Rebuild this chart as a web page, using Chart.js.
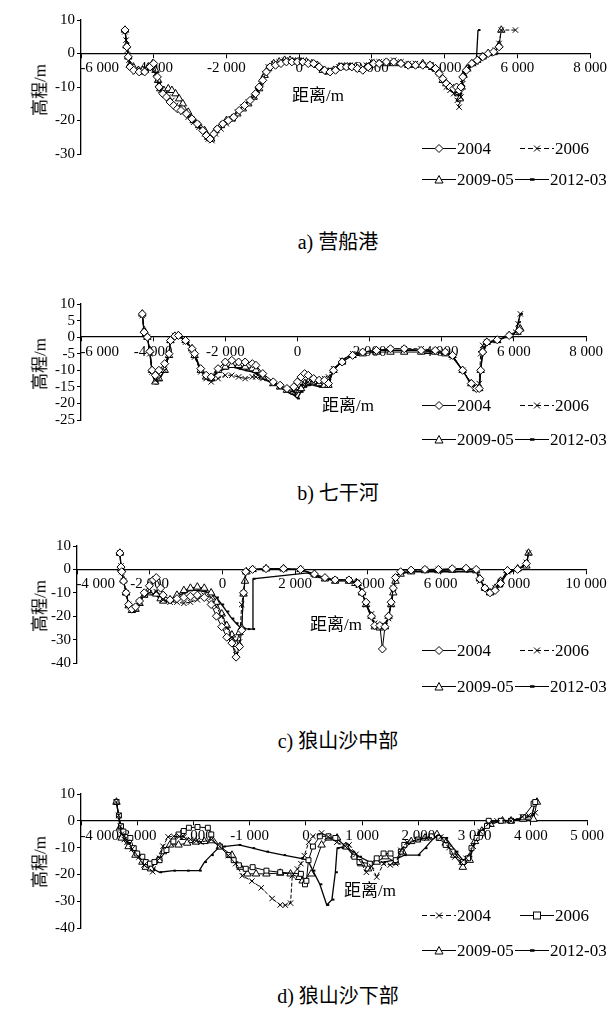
<!DOCTYPE html>
<html><head><meta charset="utf-8">
<script src="https://cdn.jsdelivr.net/npm/chart.js@4/dist/chart.umd.min.js"></script>
<style>
body{margin:0;background:#fff;width:616px;height:1010px;position:relative;overflow:hidden;font-family:'Liberation Serif','Times New Roman','Noto Sans CJK SC',serif;color:#000}
canvas{position:absolute;left:0}
.t{position:absolute;white-space:nowrap;transform:translate(-50%,-50%);font-size:20px;line-height:1}
.yt{position:absolute;white-space:nowrap;transform:translate(-50%,-50%) rotate(-90deg);font-size:17px;line-height:1}
.xt{position:absolute;white-space:nowrap;transform:translate(-50%,-50%);font-size:17px;line-height:1}
.lg{position:absolute;display:flex;align-items:center;font-size:17px;line-height:1;white-space:nowrap;transform:translateY(-50%)}
.lg svg{display:block;margin-right:1px}
</style></head><body>
<script>
// ---------- legend labels ----------
const legendABC = ['2004', '2006', '2009-05', '2012-03'];
const legendD = ['2004', '2006', '2009-05', '2012-03'];
const titles = ['a) 营船港', 'b) 七干河', 'c) 狼山沙中部', 'd) 狼山沙下部'];
const xTitle = '距离/m';
const yTitle = '高程/m';

// ---------- panel a: 营船港 ----------
const a2004 = [[-4790,7],[-4740,2],[-4700,-1],[-4650,-4],[-4550,-5],[-4400,-5.5],[-4250,-5.5],[-4100,-4],[-4000,-3],[-3900,-7],[-3850,-10],[-3750,-12],[-3650,-13],[-3550,-14.5],[-3450,-15.5],[-3350,-16.5],[-3250,-17],[-3100,-18],[-2950,-19.5],[-2800,-21],[-2650,-23],[-2550,-24.5],[-2450,-25.5],[-2350,-24],[-2250,-22.5],[-2100,-21],[-1950,-20],[-1800,-19],[-1650,-17],[-1500,-15.5],[-1350,-14],[-1200,-12],[-1100,-10],[-1000,-8],[-900,-5.5],[-800,-4],[-650,-3.5],[-500,-3],[-350,-2.5],[-200,-2.5],[-50,-2.5],[100,-2.5],[250,-3],[400,-3],[550,-4],[700,-5],[850,-5.5],[1000,-5],[1150,-4],[1300,-4],[1450,-4],[1600,-4.5],[1750,-5],[1900,-4],[2050,-3],[2200,-3],[2400,-2.5],[2600,-2.5],[2800,-3],[3000,-3.5],[3200,-3.5],[3400,-3.5],[3600,-3.5],[3750,-4.5],[3850,-6],[3950,-7.5],[4050,-9],[4150,-10],[4250,-10.5],[4330,-10],[4400,-11],[4450,-10],[4500,-7],[4600,-5],[4750,-3],[4900,-2],[5050,-1],[5200,0],[5350,0.5],[5500,2]];
const a2006 = [[-4790,6.5],[-4760,4],[-4720,1],[-4680,-2],[-4620,-4],[-4500,-5.5],[-4350,-5.5],[-4200,-5],[-4050,-3.5],[-3950,-6],[-3880,-9],[-3800,-11],[-3700,-12],[-3600,-13],[-3500,-14],[-3400,-15.5],[-3300,-16],[-3200,-17.5],[-3050,-19],[-2900,-20.5],[-2750,-22],[-2600,-24],[-2500,-25.5],[-2400,-26],[-2300,-24],[-2150,-22.5],[-2000,-21],[-1850,-19.5],[-1700,-17.5],[-1550,-16],[-1400,-14.5],[-1250,-13],[-1150,-11],[-1050,-9],[-950,-6],[-850,-4],[-700,-3],[-550,-2.5],[-400,-2],[-250,-2],[-100,-2],[50,-2],[200,-2.5],[350,-3],[500,-3.5],[650,-4.5],[800,-5.5],[950,-5],[1100,-4],[1250,-3.5],[1400,-3.5],[1550,-4],[1700,-4.5],[1850,-3.5],[2000,-2.5],[2200,-2.5],[2400,-2.5],[2600,-2],[2800,-2.5],[3000,-3],[3200,-3],[3400,-3.5],[3600,-3.5],[3750,-4.5],[3850,-6],[3950,-8],[4050,-10],[4150,-11],[4250,-12],[4350,-14],[4400,-16],[4450,-13],[4500,-9],[4550,-6],[4650,-4.5],[4800,-3],[4950,-1.5],[5100,-0.5],[5250,0],[5400,1],[5500,3],[5560,7],[5950,7]];
const a2009 = [[-4790,7],[-4750,2.3],[-4700,-1],[-4660,-3.5],[-4560,-4],[-4420,-5],[-4300,-5],[-4150,-4],[-4030,-3],[-3950,-5],[-3880,-8],[-3820,-10.5],[-3720,-11],[-3600,-10.5],[-3500,-11],[-3400,-12],[-3300,-13.5],[-3200,-15],[-3050,-17.5],[-2900,-20],[-2750,-21.5],[-2600,-23],[-2500,-25],[-2420,-25.5],[-2300,-23],[-2150,-21.5],[-2000,-20],[-1850,-19.5],[-1700,-18],[-1550,-16.5],[-1400,-15],[-1250,-13],[-1100,-10.5],[-950,-6.5],[-850,-4.5],[-700,-3],[-550,-2.5],[-400,-2],[-250,-2],[-100,-2.5],[50,-2.5],[200,-2.5],[350,-3],[500,-3.5],[650,-5],[800,-5.5],[950,-5],[1100,-4],[1250,-4],[1400,-4],[1550,-4],[1700,-4.5],[1850,-4],[2000,-3],[2200,-3],[2400,-3],[2600,-3],[2800,-3],[3000,-3.5],[3200,-3.5],[3400,-3],[3600,-3.5],[3750,-4.5],[3850,-5.5],[3950,-8],[4050,-9],[4150,-10],[4250,-10.5],[4350,-11],[4420,-13.5],[4470,-10],[4520,-6.5],[4620,-4.5],[4750,-3],[4900,-2],[5050,-1],[5200,0],[5350,0.3],[5500,2.5],[5560,7]];
const a2012 = [[-4790,7],[-4740,3],[-4690,-1],[-4640,-4],[-4500,-5.5],[-4350,-6],[-4200,-5.5],[-4050,-4],[-3950,-6],[-3870,-9],[-3780,-11],[-3680,-12.5],[-3580,-13.5],[-3480,-15],[-3380,-16],[-3250,-17],[-3100,-18.5],[-2950,-20],[-2800,-21.5],[-2650,-23.5],[-2520,-25],[-2430,-25],[-2330,-23.5],[-2200,-22],[-2050,-21],[-1900,-20],[-1750,-18.5],[-1600,-16.5],[-1450,-15],[-1300,-13.5],[-1150,-11],[-1050,-9],[-950,-6],[-850,-4.5],[-700,-3.5],[-550,-3],[-400,-2.5],[-250,-2],[-100,-2],[50,-2],[200,-2.5],[350,-3],[500,-3.5],[650,-4.5],[800,-5],[950,-5],[1100,-4],[1250,-3.5],[1400,-3.5],[1550,-4],[1700,-4.5],[1850,-3.5],[2000,-3],[2200,-2.5],[2400,-2.5],[2600,-2.5],[2800,-3],[3000,-3],[3200,-3.5],[3400,-3.5],[3600,-4],[3750,-5],[3850,-6.5],[3950,-8],[4050,-9.5],[4150,-10.5],[4250,-11.5],[4350,-12.5],[4420,-12],[4480,-8],[4530,-6],[4650,-5],[4750,-3.5],[4870,-3],[4920,7]];

// ---------- panel b: 七干河 ----------
const b2004 = [[-4300,7],[-4250,1.5],[-4160,0],[-4090,-4.3],[-4030,-10],[-3940,-11.5],[-3840,-10],[-3680,-8],[-3560,-5],[-3520,-1],[-3400,0.3],[-3300,0.5],[-3100,-1],[-2920,-3.5],[-2850,-5],[-2680,-9.5],[-2530,-11.5],[-2390,-12],[-2200,-9.5],[-2000,-7.5],[-1820,-7],[-1630,-7.5],[-1450,-7.5],[-1250,-8],[-1150,-8.5],[-960,-11],[-670,-13.5],[-480,-14.5],[-290,-15.5],[-100,-15],[0,-13.5],[100,-12],[200,-11],[300,-11.5],[450,-12.5],[600,-13],[750,-13],[860,-14],[1000,-10],[1240,-7.5],[1530,-5.5],[1810,-4.5],[2190,-4],[2580,-3.5],[2960,-3.5],[3430,-4],[3820,-4],[4100,-4.5],[4300,-5.5],[4580,-10],[4820,-14],[4960,-15.5],[5040,-15.5],[5080,-10],[5135,-4.5],[5250,-1.5],[5540,-0.8],[5870,0.5],[6150,2]];
const b2006 = [[-4300,6.5],[-4250,1],[-4160,0],[-4090,-5],[-4030,-10.5],[-3940,-13],[-3840,-12.5],[-3680,-10],[-3560,-5.5],[-3520,-1],[-3400,0.5],[-3300,0.3],[-3100,-1.5],[-2920,-4],[-2850,-6],[-2680,-10.5],[-2530,-12.5],[-2390,-13.5],[-2200,-12.5],[-2000,-11.5],[-1820,-11.5],[-1630,-12],[-1450,-12.5],[-1250,-12],[-1150,-12],[-960,-12.5],[-670,-14],[-480,-15],[-290,-16],[-100,-16.5],[0,-16],[100,-14.5],[200,-14],[300,-13.5],[450,-13.5],[600,-13.5],[750,-12.5],[860,-12],[1000,-9.5],[1240,-7],[1530,-5],[1810,-4.5],[2190,-4],[2580,-3.5],[2960,-3.5],[3430,-3.5],[3820,-4],[4100,-4.5],[4300,-6],[4580,-10],[4820,-14],[4960,-15],[5040,-14],[5080,-5],[5135,-2.5],[5250,-1.5],[5540,-1],[5870,0.5],[6050,1.5],[6120,4],[6180,7]];
const b2009 = [[-4300,7],[-4250,2],[-4160,0],[-4090,-4],[-4030,-10],[-3940,-13.5],[-3840,-12.5],[-3680,-10],[-3560,-5.5],[-3520,-1],[-3400,0.3],[-3300,0.5],[-3100,-1],[-2920,-3.5],[-2850,-5.5],[-2680,-10],[-2530,-12],[-2390,-12.5],[-2200,-10],[-2000,-9],[-1820,-8.5],[-1630,-8.5],[-1450,-9],[-1250,-9.5],[-1150,-10],[-960,-12],[-670,-14],[-480,-15],[-290,-16],[-100,-16.5],[0,-16],[100,-15.5],[200,-14],[300,-13.5],[450,-13.5],[600,-14],[750,-14.5],[860,-14.5],[1000,-10],[1240,-7.5],[1530,-5.5],[1810,-5],[2190,-4.5],[2580,-4.5],[2960,-4.5],[3430,-4.5],[3820,-4.5],[4100,-5],[4300,-5.5],[4580,-10],[4820,-14],[4960,-15.5],[5040,-15.5],[5080,-10],[5135,-4],[5250,-1.5],[5540,-1],[5870,0.5],[6100,1.5],[6180,2.5]];
const b2012 = [[-4300,7],[-4250,1.5],[-4160,0],[-4090,-5],[-4030,-10.5],[-3940,-14],[-3840,-13],[-3680,-10],[-3560,-5],[-3520,-1],[-3400,0.5],[-3300,0.3],[-3100,-1],[-2920,-3.5],[-2850,-5.5],[-2680,-10],[-2530,-11.5],[-2390,-12.5],[-2200,-10.5],[-2000,-9.5],[-1820,-9],[-1630,-9.5],[-1450,-10],[-1250,-10.5],[-1150,-11],[-960,-12.5],[-670,-14],[-480,-15],[-290,-16.5],[-100,-17.5],[0,-18.5],[100,-16.5],[200,-15],[300,-14.5],[450,-14.5],[600,-15],[750,-14],[860,-13],[1000,-10],[1240,-7],[1530,-5],[1810,-4.5],[2190,-4],[2580,-4],[2960,-4],[3430,-4],[3820,-4.5],[4100,-5],[4300,-6],[4580,-10],[4820,-14.5],[4960,-16],[5040,-16],[5080,-10],[5135,-5],[5250,-2],[5540,-1],[5870,0.3],[6050,1.5],[6120,4.5],[6180,7]];

// ---------- panel c: 狼山沙中部 ----------
const c2004 = [[-2820,7],[-2790,1],[-2770,-1],[-2720,-5],[-2650,-10],[-2580,-15],[-2490,-17],[-2390,-16],[-2280,-13.5],[-2150,-10],[-2010,-7],[-1900,-4.5],[-1820,-3.5],[-1700,-8],[-1630,-11],[-1440,-13],[-1250,-12.5],[-1060,-12],[-880,-11.5],[-690,-11],[-500,-12],[-310,-15],[-165,-20],[-20,-24.5],[120,-29],[260,-31.5],[375,-37.5],[470,-33],[530,-26],[580,-10],[640,-1],[830,0],[1200,0.3],[1680,0.3],[2150,0],[2530,-2],[2820,-3.5],[3100,-4.5],[3480,-4.5],[3720,-6],[3840,-10],[3950,-14],[4100,-20],[4190,-24],[4330,-24],[4400,-34],[4470,-24.5],[4570,-20],[4640,-14],[4700,-8],[4760,-3.5],[4900,-1],[5190,-0.3],[5570,0],[5940,0],[6320,0.3],[6700,0.5],[6980,0],[7080,-4],[7220,-8],[7360,-10],[7500,-9],[7650,-6],[7840,-0.5],[8120,0],[8360,2.5]];
const c2006 = [[-2820,7],[-2790,1.5],[-2770,-1],[-2720,-5],[-2650,-10],[-2580,-15],[-2490,-17.5],[-2390,-17],[-2280,-14],[-2150,-11],[-2010,-10],[-1820,-9.5],[-1700,-11],[-1630,-13],[-1440,-14],[-1250,-14],[-1060,-14.5],[-880,-14],[-690,-13],[-500,-11],[-310,-12],[-165,-16],[-20,-20],[120,-25],[260,-29],[375,-36.5],[470,-31],[530,-15],[580,-10],[640,-1],[830,0],[1200,0.3],[1680,0.3],[2150,0],[2530,-2.5],[2820,-4],[3100,-4.5],[3480,-4.5],[3720,-5.5],[3840,-9],[3950,-15],[4100,-19],[4190,-23],[4330,-24],[4470,-24],[4570,-21],[4640,-15],[4700,-8],[4760,-3.5],[4900,-1],[5190,-0.5],[5570,0],[5940,0],[6320,0],[6700,0.3],[6980,-0.5],[7080,-5],[7220,-8],[7360,-9.5],[7500,-8],[7650,-6],[7840,-1],[8120,0],[8360,3],[8420,7]];
const c2009 = [[-2820,7],[-2790,0.5],[-2770,0],[-2720,-4.5],[-2650,-10],[-2580,-15.5],[-2490,-17.5],[-2390,-17],[-2280,-14.5],[-2150,-11],[-2010,-10],[-1820,-10.5],[-1700,-12.5],[-1630,-13.5],[-1440,-13],[-1250,-11],[-1060,-9],[-880,-8],[-690,-7.5],[-500,-8],[-310,-10],[-165,-14],[-20,-19],[120,-24],[260,-28],[375,-32],[470,-27],[530,-25],[580,-10.5],[620,-5],[660,-1],[830,0],[1200,0.3],[1680,0.3],[2150,0],[2530,-2],[2820,-4],[3100,-5],[3480,-5],[3720,-6],[3840,-10],[3950,-15],[4100,-20],[4190,-24.5],[4330,-25],[4470,-24.5],[4570,-20],[4640,-15],[4700,-10],[4760,-5],[4900,-2],[5190,-1],[5570,-0.5],[5940,-0.5],[6320,-0.3],[6700,0],[6980,-0.5],[7080,-4],[7220,-8],[7360,-10],[7500,-8],[7650,-5],[7840,-0.5],[8120,0.3],[8360,1.5],[8420,7]];
const c2012 = [[-2820,7],[-2790,1.5],[-2770,-0.5],[-2720,-5],[-2650,-10],[-2580,-15],[-2490,-18],[-2390,-16.5],[-2280,-13],[-2150,-10],[-2010,-10],[-1820,-11],[-1700,-13],[-1630,-14],[-1440,-13],[-1250,-11.5],[-1060,-10],[-880,-9],[-690,-9],[-500,-9.5],[-310,-10],[-165,-12],[-20,-15],[120,-18],[260,-21],[375,-23],[470,-24.5],[560,-25],[700,-25.5],[830,-25.5],[840,-4],[2350,-1.5],[2530,-3],[2820,-4],[3100,-4.5],[3480,-4.5],[3720,-6],[3840,-10],[3950,-15],[4100,-20.5],[4190,-23.5],[4330,-24],[4470,-23],[4570,-21],[4640,-14.5],[4700,-9],[4760,-3.5],[4900,-1.5],[5190,-1],[5570,-1],[5940,-1],[6320,-1],[6700,-1],[6980,-1],[7080,-4.5],[7220,-7.5],[7360,-9],[7500,-8],[7650,-6],[7840,-1.5],[8120,0],[8360,2],[8420,7]];

// ---------- panel d: 狼山沙下部 ----------
const d2004 = [[-3370,7],[-3330,2],[-3300,-2],[-3280,-5],[-3230,-7],[-3180,-8],[-3090,-10.5],[-2970,-13.5],[-2880,-16.5],[-2725,-19],[-2600,-14],[-2541,-9.5],[-2450,-6],[-2350,-5.8],[-2250,-5.8],[-2170,-6],[-2050,-7],[-1950,-7.5],[-1867,-8],[-1683,-7],[-1530,-9.6],[-1380,-13],[-1250,-16],[-1131,-20.5],[-960,-22.5],[-794,-25],[-600,-29],[-457,-31.4],[-365,-31.5],[-273,-30.7],[-242,-20.5],[-150,-18],[-89,-16],[-28,-13],[50,-8],[125,-5.8],[279,-4.5],[400,-6],[550,-8],[700,-9.5],[769,-9],[892,-12.5],[1076,-19.2],[1168,-17],[1260,-21],[1382,-16],[1500,-16.5],[1597,-16],[1689,-11],[1800,-8],[1995,-7],[2150,-6.5],[2302,-6],[2400,-6],[2547,-10],[2650,-13.5],[2762,-15.5],[2850,-14],[2976,-9.5],[3100,-4],[3252,-1],[3400,0],[3650,0],[3850,1.5],[3960,2],[4080,3]];
const d2006 = [[-3369,7],[-3326,2],[-3289,-2],[-3246,-4],[-3123,-6.4],[-3062,-10.2],[-3001,-12.2],[-2909,-13.4],[-2848,-15.4],[-2774,-16],[-2694,-15.4],[-2602,-14.7],[-2480,-10.9],[-2357,-7.7],[-2265,-5.1],[-2173,-3.8],[-2081,-2.6],[-1928,-2.3],[-1744,-2.6],[-1683,-5.1],[-1530,-9.6],[-1376,-12.8],[-1284,-14.7],[-1192,-16.6],[-1070,-17.9],[-947,-17.3],[-702,-18.6],[-457,-19.2],[-89,-19.8],[-16,-23.7],[9,-22.4],[46,-14.7],[125,-9.6],[248,-5.8],[401,-5.8],[524,-6.4],[708,-9.6],[861,-13.4],[953,-15.4],[1137,-16],[1260,-14],[1382,-12.2],[1505,-12.2],[1597,-14.7],[1689,-11.5],[1750,-9],[1995,-7],[2240,-5.8],[2363,-6.4],[2486,-9],[2608,-11.5],[2792,-15.4],[2884,-14],[2945,-10.2],[3037,-6.4],[3129,-4.5],[3221,-1.9],[3252,0],[3466,0],[3650,0],[3865,1.3],[4050,6.4],[4079,7]];
const d2009 = [[-3369,7],[-3307,-2.6],[-3277,-6.4],[-3154,-9.6],[-3031,-12.8],[-2909,-15.4],[-2848,-17.3],[-2756,-17.9],[-2633,-14.7],[-2541,-11.5],[-2418,-9],[-2265,-9],[-2112,-8.3],[-1959,-7.9],[-1805,-7.7],[-1683,-7.4],[-1530,-9.6],[-1315,-12.8],[-1162,-17.3],[-1039,-19.8],[-886,-19.8],[-702,-19.8],[-457,-19.5],[-273,-19.8],[-120,-21.1],[-58,-22.4],[95,-19.8],[279,-9],[401,-6.4],[555,-6.4],[708,-9.6],[861,-12.8],[984,-16],[1106,-17.9],[1260,-15.4],[1413,-13.4],[1597,-15.4],[1719,-11.5],[1873,-7.7],[2118,-6.4],[2332,-5.1],[2486,-8.3],[2639,-12.8],[2792,-17.3],[2915,-14.7],[3007,-7.7],[3129,-3.8],[3283,-1.3],[3497,0],[3650,0],[3865,0.6],[4049,0.6],[4110,7]];
const d2012 = [[-3369,7],[-3326,1.3],[-3289,-2.6],[-3246,-5.1],[-3154,-8.3],[-3031,-11.5],[-2878,-14.7],[-2725,-17.9],[-2602,-19.2],[-2357,-18.6],[-2112,-18.6],[-1897,-18.6],[-1805,-15.4],[-1683,-12.8],[-1560,-10.2],[-1468,-9.6],[-1192,-9],[-947,-10.2],[-702,-11.5],[-396,-12.8],[-89,-14],[34,-14.7],[125,-18.6],[248,-23.7],[371,-31.4],[463,-29.4],[524,-19.2],[555,-10.2],[708,-9.6],[953,-13.4],[1137,-15.4],[1382,-15.4],[1566,-14.7],[1750,-12.8],[1995,-12.8],[2118,-10.2],[2302,-5.8],[2486,-6.4],[2669,-11.5],[2792,-14.7],[2915,-13.4],[3007,-7.7],[3129,-3.8],[3283,-0.6],[3528,0],[3834,0.6],[4018,1.9],[4079,7]];

// ---------- rendering ----------
const fmt = v => (v < 0 ? '-' : '') + String(Math.abs(v)).replace(/\B(?=(\d{3})+(?!\d))/g, ' ');
const styleABC = [
  {pt:'rectRot', r:4, dash:[]},
  {pt:'crossRot', r:3.8, dash:[4,2]},
  {pt:'triangle', r:4.3, dash:[]},
  {pt:'dash', r:2.5, dash:[]}
];
const styleD = [
  {pt:'crossRot', r:3.8, dash:[4,2]},
  {pt:'rect', r:3.5, dash:[]},
  {pt:'triangle', r:4.3, dash:[]},
  {pt:'dash', r:2.5, dash:[]}
];

const panels = [
  {top:0, h:200, pad:{top:20,bottom:46,left:0,right:26}, yW:81, x:[-6000,8000,2000], y:[-30,10,10],
   series:[a2004,a2006,a2009,a2012], labels:legendABC, styles:styleABC,
   titleY:242, xT:[318,95], yT:[40,90], leg:[148,179]},
  {top:280, h:200, pad:{top:24,bottom:60,left:0,right:30}, yW:81, x:[-6000,8000,2000], y:[-25,10,5],
   series:[b2004,b2006,b2009,b2012], labels:legendABC, styles:styleABC,
   titleY:493, xT:[348,405], yT:[40,364], leg:[405,439]},
  {top:530, h:180, pad:{top:16,bottom:47,left:0,right:30}, yW:77, x:[-4000,10000,2000], y:[-40,10,10],
   series:[c2004,c2006,c2009,c2012], labels:legendABC, styles:styleABC,
   titleY:741, xT:[336,624], yT:[40,606], leg:[650,686]},
  {top:780, h:180, pad:{top:14,bottom:32,left:0,right:29}, yW:81, x:[-4000,5000,1000], y:[-40,10,10],
   series:[d2004,d2006,d2009,d2012], labels:legendD, styles:styleD,
   titleY:996, xT:[370,890], yT:[40,862], leg:[915,950]}
];

function icon(st) {
  const dash = st.dash.length ? ' stroke-dasharray="5,3"' : '';
  let m = '';
  if (st.pt === 'rectRot') m = '<polygon points="17,3 21,7 17,11 13,7" fill="#fff" stroke="#000" stroke-width="1"/>';
  else if (st.pt === 'crossRot') m = '<path d="M14,4 L20,10 M14,10 L20,4" stroke="#000" stroke-width="1"/>';
  else if (st.pt === 'triangle') m = '<polygon points="17,3 21,10.5 13,10.5" fill="#fff" stroke="#000" stroke-width="1"/>';
  else if (st.pt === 'rect') m = '<rect x="13.5" y="3.5" width="7" height="7" fill="#fff" stroke="#000" stroke-width="1"/>';
  else m = '<line x1="15" y1="7" x2="19.5" y2="7" stroke="#000" stroke-width="2.5"/>';
  return '<svg width="34" height="14" viewBox="0 0 34 14"><line x1="0" y1="7" x2="34" y2="7" stroke="#000" stroke-width="1"' + dash + '/>' + m + '</svg>';
}

function addDiv(cls, text, x, y, extra) {
  const d = document.createElement('div');
  d.className = cls;
  if (extra) d.innerHTML = extra;
  const s = document.createElement('span');
  s.textContent = text;
  d.appendChild(s);
  d.style.left = x + 'px';
  d.style.top = y + 'px';
  document.body.appendChild(d);
  return d;
}

Chart.defaults.font.family = "'Liberation Serif','Times New Roman',serif";
Chart.defaults.font.size = 15;
Chart.defaults.color = '#000';

panels.forEach((p, pi) => {
  const cv = document.createElement('canvas');
  cv.width = 616; cv.height = p.h;
  cv.style.width = '616px'; cv.style.height = p.h + 'px';
  cv.style.top = p.top + 'px';
  document.body.appendChild(cv);

  const datasets = p.series.map((s, i) => ({
    label: p.labels[i],
    data: s.map(([x, y]) => ({x, y})),
    showLine: true,
    borderColor: '#000',
    borderWidth: i === 3 ? 1.3 : 1,
    borderDash: p.styles[i].dash,
    pointStyle: p.styles[i].pt,
    pointRadius: p.styles[i].r,
    pointBorderWidth: i === 3 ? 2 : 1,
    pointBackgroundColor: '#fff',
    pointBorderColor: '#000',
    tension: 0
  }));

  new Chart(cv, {
    type: 'scatter',
    data: {datasets},
    options: {
      animation: false, responsive: false, maintainAspectRatio: false,
      layout: {padding: p.pad},
      plugins: {legend: {display: false}, tooltip: {enabled: false}},
      scales: {
        x: {
          type: 'linear', min: p.x[0], max: p.x[1], position: {y: 0},
          ticks: {stepSize: p.x[2], autoSkip: false, maxRotation: 0, padding: 2,
            callback: (v, i) => (i === 0 ? '\u2003\u2003\u2002' : '') + fmt(v)},
          grid: {drawOnChartArea: false, tickLength: 4, color: '#000'},
          border: {color: '#000', width: 1.3},
          afterFit: s => { s.paddingLeft = 0; s.paddingRight = 0; }
        },
        y: {
          type: 'linear', min: p.y[0], max: p.y[1],
          ticks: {stepSize: p.y[2], autoSkip: false, padding: 2, callback: v => fmt(v)},
          grid: {drawOnChartArea: false, tickLength: 4, color: '#000'},
          border: {color: '#000', width: 1.3},
          afterFit: s => { s.width = p.yW; }
        }
      }
    }
  });

  addDiv('t', titles[pi], 338, p.titleY);
  addDiv('xt', xTitle, p.xT[0], p.xT[1]);
  addDiv('yt', yTitle, p.yT[0], p.yT[1]);
  const lx = [[422, 520], [422, 515]];
  [0, 1, 2, 3].forEach(i => {
    const row = Math.floor(i / 2), col = i % 2;
    addDiv('lg', p.labels[i], lx[row][col], p.leg[row], icon(p.styles[i]));
  });
});
</script>
</body></html>
